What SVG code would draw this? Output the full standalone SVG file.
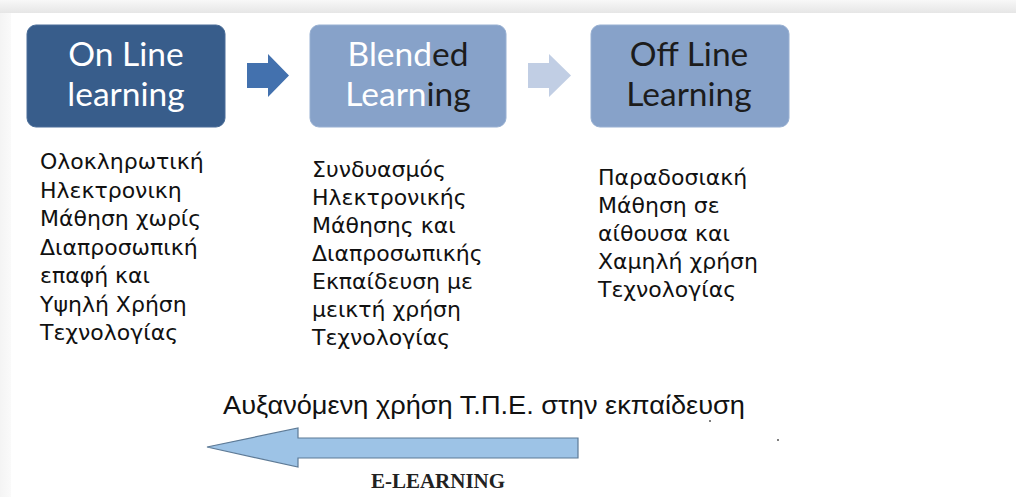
<svg xmlns="http://www.w3.org/2000/svg" width="1016" height="497" viewBox="0 0 1016 497">
<defs>
<linearGradient id="topg" x1="0" y1="0" x2="0" y2="1">
<stop offset="0" stop-color="#f8f8f8"/>
<stop offset="1" stop-color="#e6e6e6"/>
</linearGradient>
<linearGradient id="leftg" x1="0" y1="0" x2="1" y2="0">
<stop offset="0" stop-color="#f4f4f4"/>
<stop offset="1" stop-color="#fafafa"/>
</linearGradient>
</defs>
<style>
.box-dark{fill:#385d8b;stroke:#4a6d98;stroke-width:1}
.box-light{fill:#87a2c9;stroke:#98b0d2;stroke-width:1}
.title{font-family:Lato,"Open Sans",sans-serif;font-size:33.5px;text-anchor:middle}
.w{fill:#ffffff}
.k{fill:#1c1c1c}
.body{font-family:"DejaVu Sans",Verdana,sans-serif;font-size:22px;fill:#111111}
.note{font-family:"Liberation Sans",Arial,sans-serif;font-size:26px;fill:#111111}
.el{font-family:"Liberation Serif","Times New Roman",serif;font-size:21px;font-weight:bold;fill:#222222;text-anchor:middle}
</style>
<rect x="0" y="0" width="1016" height="497" fill="#ffffff"/>
<rect x="0" y="0" width="11" height="497" fill="url(#leftg)"/>
<rect x="0" y="0" width="1016" height="13" fill="url(#topg)"/>

<g id="node-online">
<rect class="box-dark" x="27" y="25" width="198" height="102" rx="9"/>
<text class="title w" x="126" y="66">On Line</text>
<text class="title w" x="126" y="106">learning</text>
</g>
<g id="node-blended">
<rect class="box-light" x="310" y="25" width="196" height="102" rx="9"/>
<text class="title" x="408" y="66"><tspan class="w">Blend</tspan><tspan class="k">ed</tspan></text>
<text class="title" x="408" y="106"><tspan class="w">Learn</tspan><tspan class="k">ing</tspan></text>
</g>
<g id="node-offline">
<rect class="box-light" x="591" y="25" width="198" height="102" rx="9"/>
<text class="title k" x="689" y="66">Off Line</text>
<text class="title k" x="689" y="106">Learning</text>
</g>

<g id="connectors">
<polygon points="247,63 268,63 268,54 289,75.5 268,97 268,88 247,88" fill="#4371ae"/>
<polygon points="528,63 549,63 549,54 571,75.5 549,97 549,88 528,88" fill="#c1cee4"/>
<polygon points="578,438 298,438 298,428 207,447 298,467 298,458 578,458" fill="#9dc3e6" stroke="#5d7a96" stroke-width="1.2" stroke-linejoin="miter"/>
</g>

<g id="text-online">
<text class="body" x="40" y="169">Ολοκληρωτική</text>
<text class="body" x="40" y="197.5">Ηλεκτρονικη</text>
<text class="body" x="40" y="226">Μάθηση χωρίς</text>
<text class="body" x="40" y="254.5">Διαπροσωπική</text>
<text class="body" x="40" y="283">επαφή και</text>
<text class="body" x="40" y="311.5">Υψηλή Χρήση</text>
<text class="body" x="40" y="340">Τεχνολογίας</text>
</g>
<g id="text-blended">
<text class="body" x="312" y="177">Συνδυασμός</text>
<text class="body" x="312" y="205">Ηλεκτρονικής</text>
<text class="body" x="312" y="233">Μάθησης και</text>
<text class="body" x="312" y="261">Διαπροσωπικής</text>
<text class="body" x="312" y="289">Εκπαίδευση με</text>
<text class="body" x="312" y="317">μεικτή χρήση</text>
<text class="body" x="312" y="345">Τεχνολογίας</text>
</g>
<g id="text-offline">
<text class="body" x="598" y="185">Παραδοσιακή</text>
<text class="body" x="598" y="213">Μάθηση σε</text>
<text class="body" x="598" y="241">αίθουσα και</text>
<text class="body" x="598" y="269">Χαμηλή χρήση</text>
<text class="body" x="598" y="297">Τεχνολογίας</text>
</g>

<g id="caption">
<text class="note" x="223" y="414" textLength="522" lengthAdjust="spacingAndGlyphs">Αυξανόμενη χρήση Τ.Π.Ε. στην εκπαίδευση</text>
<text class="el" x="438" y="488">E-LEARNING</text>
<circle cx="710" cy="421" r="1" fill="#555555"/>
<circle cx="778" cy="440" r="1" fill="#555555"/>
</g>
</svg>
